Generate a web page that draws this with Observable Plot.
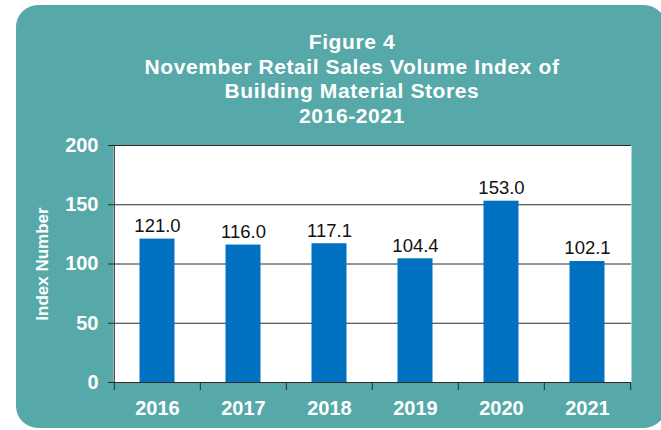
<!DOCTYPE html>
<html>
<head>
<meta charset="utf-8">
<script src="https://cdn.jsdelivr.net/npm/d3@7"></script>
<script src="https://cdn.jsdelivr.net/npm/@observablehq/plot@0.6"></script>
<style>
  html, body { margin: 0; padding: 0; background: #ffffff; }
  #wrap { position: relative; width: 661px; height: 430px; overflow: hidden; font-family: "Liberation Sans", Arial, sans-serif; }
  #panel { position: absolute; left: 16px; top: 5px; width: 650px; height: 423px; border-radius: 22px; background: #57a9a9; }
  #title { position: absolute; left: 52px; top: 30px; width: 600px; text-align: center; color: #ffffff;
           font-weight: bold; font-size: 21px; line-height: 24.7px; letter-spacing: 0.6px; }
  #chart { position: absolute; left: 0; top: 0; }
</style>
</head>
<body>
<div id="wrap">
  <div id="panel"></div>
  <div id="title"></div>
  <div id="chart"></div>
</div>
<script>
const titleLines = ["Figure 4", "November Retail Sales Volume Index of", "Building Material Stores", "2016-2021"];
const yAxisLabel = "Index Number";
const years = ["2016", "2017", "2018", "2019", "2020", "2021"];
const values = [121.0, 116.0, 117.1, 104.4, 153.0, 102.1];
const yTicks = [0, 50, 100, 150, 200];

document.getElementById("title").innerHTML = titleLines.map(t => `<div>${t}</div>`).join("");

const data = years.map((year, i) => ({year, value: values[i]}));

const W = 661, H = 430, mL = 113, mR = 30, mT = 145, mB = 48;
const bw = (W - mL - mR) / years.length;
const lineColor = "#2a2a2a";
const font = "Liberation Sans, Arial, sans-serif";

const chart = Plot.plot({
  width: W,
  height: H,
  marginLeft: mL,
  marginRight: mR,
  marginTop: mT,
  marginBottom: mB,
  style: {background: "transparent", fontFamily: font, overflow: "visible"},
  x: {domain: years, padding: 0, axis: null},
  y: {domain: [0, 200], axis: null},
  marks: [
    Plot.frame({fill: "white", stroke: "none"}),
    Plot.gridY(yTicks.filter(t => t > 0), {stroke: lineColor, strokeOpacity: 1}),
    Plot.barY(data, {x: "year", y: "value", fill: "#0070c0", insetLeft: 25.5, insetRight: 25.5}),
    Plot.ruleY([0], {stroke: lineColor}),
    Plot.ruleX(years.slice(0, 1), {x: d => d, dx: -bw / 2, stroke: lineColor}),
    Plot.ruleX(years, {x: d => d, dx: -bw / 2, y1: 0, y2: 0, insetBottom: -8, stroke: lineColor}),
    Plot.ruleX(years.slice(-1), {x: d => d, dx: bw / 2, y1: 0, y2: 0, insetBottom: -8, stroke: lineColor}),
    Plot.axisY({ticks: yTicks, tickSize: 5, tickPadding: 10, stroke: lineColor, fill: "white", color: "white",
                fontSize: 20, fontWeight: "bold", label: null}),
    Plot.axisX({tickSize: 0, tickPadding: 18, color: "white", fill: "white", fontSize: 20, fontWeight: "bold", label: null}),
    Plot.text(data, {x: "year", y: "value", text: d => d.value.toFixed(1), dy: -13, fontSize: 18.5, fill: "#111111"}),
    Plot.text([yAxisLabel], {frameAnchor: "left", textAnchor: "middle", dx: -71, rotate: -90, fontSize: 17, fontWeight: "bold", fill: "white"})
  ]
});
document.getElementById("chart").appendChild(chart);
</script>
</body>
</html>
